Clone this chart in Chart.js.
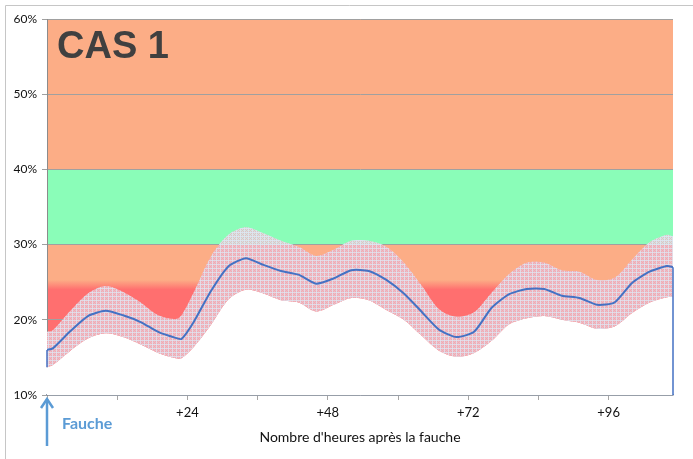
<!DOCTYPE html>
<html>
<head>
<meta charset="utf-8">
<script src="https://cdn.jsdelivr.net/npm/chart.js@4/dist/chart.umd.min.js"></script>
<style>
  html, body { margin: 0; padding: 0; background: #fff; }
  #wrap { width: 693px; height: 459px; }
</style>
</head>
<body>
<div id="wrap"><canvas id="cas1" width="693" height="459"></canvas></div>
<script>
// heures après la fauche
const hours = [0, 1, 4, 7, 10, 13, 16, 19, 22, 23, 25, 28, 31, 34, 37, 40, 43, 46, 49, 52, 55, 58, 61, 64, 67, 70, 73, 76, 79, 82, 85, 88, 91, 94, 97, 100, 103, 106, 107];
// humidité moyenne (%)
const mean = [16.0, 16.2, 18.5, 20.5, 21.2, 20.6, 19.7, 18.4, 17.6, 17.45, 19.6, 23.8, 27.1, 28.2, 27.3, 26.5, 26.0, 24.8, 25.5, 26.6, 26.5, 25.3, 23.5, 21.1, 18.7, 17.7, 18.4, 21.6, 23.4, 24.1, 24.1, 23.2, 22.9, 22.0, 22.3, 24.9, 26.4, 27.15, 27.0];
// enveloppe haute / basse (%)
const upper = [18.4, 18.6, 21.2, 23.5, 24.5, 23.7, 22.3, 20.6, 20.1, 20.6, 23.5, 28.4, 31.3, 32.3, 31.5, 30.5, 29.7, 28.5, 29.3, 30.5, 30.5, 29.7, 27.6, 24.6, 21.4, 20.4, 21.0, 23.6, 26.1, 27.6, 27.6, 26.6, 26.4, 25.3, 25.6, 28.0, 30.3, 31.3, 31.1];
const lower = [13.7, 14.0, 15.9, 17.5, 18.2, 17.7, 16.7, 15.6, 14.9, 14.9, 16.3, 19.3, 22.7, 24.0, 23.5, 22.6, 22.3, 21.1, 22.0, 22.9, 22.6, 21.3, 20.0, 17.9, 15.9, 15.1, 15.6, 17.2, 19.4, 20.2, 20.5, 20.0, 19.6, 18.8, 19.1, 20.9, 22.3, 23.0, 23.1];

// zones de fond (bornes en %)
const zoneBounds = [10, 24.5, 30, 40, 60];
const zoneColors = ['#ff6f6f', '#fcad86', '#8afdb8', '#fcad86'];

const yTicks = [10, 20, 30, 40, 50, 60];
const xLabels = [24, 48, 72, 96];

const toPts = (arr) => arr.map((v, i) => ({ x: hours[i], y: v }));

// motif quadrillé de l'enveloppe
const tile = document.createElement('canvas');
tile.width = 4; tile.height = 4;
const tctx = tile.getContext('2d');
tctx.fillStyle = 'rgba(238,150,165,0.45)';
tctx.fillRect(1, 1, 1, 1);
tctx.fillRect(2, 2, 1, 1);
tctx.fillRect(3, 1, 1, 1);
tctx.fillRect(1, 3, 1, 1);
tctx.fillRect(3, 3, 1, 1);
tctx.fillStyle = 'rgba(222,230,242,0.7)';
tctx.fillRect(0, 0, 4, 1);
tctx.fillRect(0, 0, 1, 4);
const gridPattern = tctx.createPattern(tile, 'repeat');

const envelopeColor = (context) => {
    const chart = context.chart;
    const area = chart.chartArea;
    if (!area) return '#eec0c8';
    const y30 = chart.scales.y.getPixelForValue(zoneBounds[2]);
    const stop = Math.min(1, Math.max(0, (y30 - area.top) / (area.bottom - area.top)));
    const g = chart.ctx.createLinearGradient(0, area.top, 0, area.bottom);
    g.addColorStop(0, '#d4e4e1');
    g.addColorStop(stop, '#d4e4e1');
    g.addColorStop(stop, '#efbcc4');
    g.addColorStop(1, '#efbcc4');
    return g;
};

const zonesPlugin = {
    id: 'zones',
    beforeDraw(chart) {
        const { ctx, chartArea, scales } = chart;
        const y = scales.y;
        ctx.save();
        ctx.fillStyle = '#fff';
        ctx.fillRect(0, 0, chart.width, chart.height);
        for (let i = 0; i < zoneColors.length; i++) {
            const top = y.getPixelForValue(zoneBounds[i + 1]);
            const bot = y.getPixelForValue(zoneBounds[i]);
            ctx.fillStyle = zoneColors[i];
            ctx.fillRect(chartArea.left, top, chartArea.right - chartArea.left, bot - top);
        }
        // fondu rouge -> orange autour de 24.5 %
        const yA = y.getPixelForValue(25.3);
        const yB = y.getPixelForValue(24.0);
        const g = ctx.createLinearGradient(0, yA, 0, yB);
        g.addColorStop(0, zoneColors[1]);
        g.addColorStop(1, zoneColors[0]);
        ctx.fillStyle = g;
        ctx.fillRect(chartArea.left, yA, chartArea.right - chartArea.left, yB - yA);
        ctx.restore();
    },
    afterDatasetsDraw(chart) {
        // bords verticaux de la série moyenne
        const { ctx, scales } = chart;
        const x = scales.x, y = scales.y;
        const n = hours.length - 1;
        ctx.save();
        ctx.strokeStyle = '#4472c4';
        ctx.lineWidth = 1.5;
        ctx.beginPath();
        ctx.moveTo(x.getPixelForValue(hours[0]), y.getPixelForValue(mean[0]));
        ctx.lineTo(x.getPixelForValue(hours[0]), y.getPixelForValue(lower[0]));
        ctx.moveTo(x.getPixelForValue(hours[n]), y.getPixelForValue(mean[n]));
        ctx.lineTo(x.getPixelForValue(hours[n]), y.getPixelForValue(yTicks[0]));
        ctx.stroke();
        ctx.restore();
    },
    afterDraw(chart) {
        const { ctx } = chart;
        const x0 = chart.scales.x.getPixelForValue(0);
        ctx.save();
        // cadre
        ctx.strokeStyle = '#c6c6c6';
        ctx.lineWidth = 1;
        ctx.beginPath();
        ctx.moveTo(5.5, chart.height);
        ctx.lineTo(5.5, 5.5);
        ctx.lineTo(chart.width, 5.5);
        ctx.stroke();
        // titre
        ctx.fillStyle = '#404040';
        ctx.font = 'bold 38px "Liberation Sans", Arial, sans-serif';
        ctx.textBaseline = 'alphabetic';
        ctx.fillText('CAS 1', 57, 58);
        // flèche fauche
        ctx.strokeStyle = '#5b9bd5';
        ctx.lineWidth = 2.5;
        ctx.beginPath();
        ctx.moveTo(x0, 446);
        ctx.lineTo(x0, 399);
        ctx.stroke();
        ctx.beginPath();
        ctx.moveTo(x0 - 6, 408);
        ctx.lineTo(x0, 399);
        ctx.lineTo(x0 + 6, 408);
        ctx.stroke();
        ctx.fillStyle = '#5b9bd5';
        ctx.font = 'bold 16px Lato, sans-serif';
        ctx.textBaseline = 'middle';
        ctx.fillText('Fauche', 62, 424);
        ctx.restore();
    }
};

new Chart(document.getElementById('cas1'), {
    type: 'line',
    data: {
        datasets: [
            {
                data: toPts(lower),
                fill: 'start',
                backgroundColor: '#ffffff',
                borderWidth: 0,
                pointRadius: 0,
                tension: 0.3,
                order: 3
            },
            {
                data: toPts(upper),
                fill: 0,
                backgroundColor: envelopeColor,
                borderWidth: 0,
                pointRadius: 0,
                tension: 0.3,
                order: 2
            },
            {
                data: toPts(upper),
                fill: 0,
                backgroundColor: gridPattern,
                borderWidth: 0,
                pointRadius: 0,
                tension: 0.3,
                order: 1
            },
            {
                data: toPts(mean),
                fill: false,
                borderColor: '#4472c4',
                borderWidth: 2,
                pointRadius: 0,
                tension: 0.2,
                order: 0
            }
        ]
    },
    options: {
        responsive: false,
        animation: false,
        layout: { padding: { left: 0, right: 20, top: 19, bottom: 0 } },
        plugins: {
            legend: { display: false },
            tooltip: { enabled: false },
            filler: { drawTime: 'beforeDatasetDraw' }
        },
        scales: {
            x: {
                type: 'linear',
                min: 0,
                max: 107,
                afterBuildTicks: (scale) => {
                    const t = [];
                    for (let v = 0; v <= 96; v += 12) t.push({ value: v });
                    scale.ticks = t;
                },
                afterFit: (scale) => { scale.height = 64; },
                grid: {
                    drawOnChartArea: false,
                    drawTicks: true,
                    tickLength: 5,
                    color: '#a6a6a6'
                },
                border: { display: true, color: '#8e9bb0', width: 1.5 },
                ticks: {
                    autoSkip: false,
                    maxRotation: 0,
                    padding: 5,
                    color: '#111',
                    font: { family: 'Lato', size: 13 },
                    callback: (v) => xLabels.includes(v) ? '+' + v : ''
                },
                title: {
                    display: true,
                    text: "Nombre d'heures après la fauche",
                    color: '#111',
                    font: { family: 'Lato', size: 14 },
                    padding: { top: 0, bottom: 13 }
                }
            },
            y: {
                min: 10,
                max: 60,
                afterBuildTicks: (scale) => { scale.ticks = yTicks.map((v) => ({ value: v })); },
                afterFit: (scale) => { scale.width = 47; },
                grid: {
                    color: '#a0a0a0',
                    tickLength: 5
                },
                border: { display: true, color: '#8c8c8c' },
                ticks: {
                    padding: 5,
                    color: '#111',
                    font: { family: 'Lato', size: 12 },
                    callback: (v) => v + '%'
                }
            }
        }
    },
    plugins: [zonesPlugin]
});
</script>
</body>
</html>
